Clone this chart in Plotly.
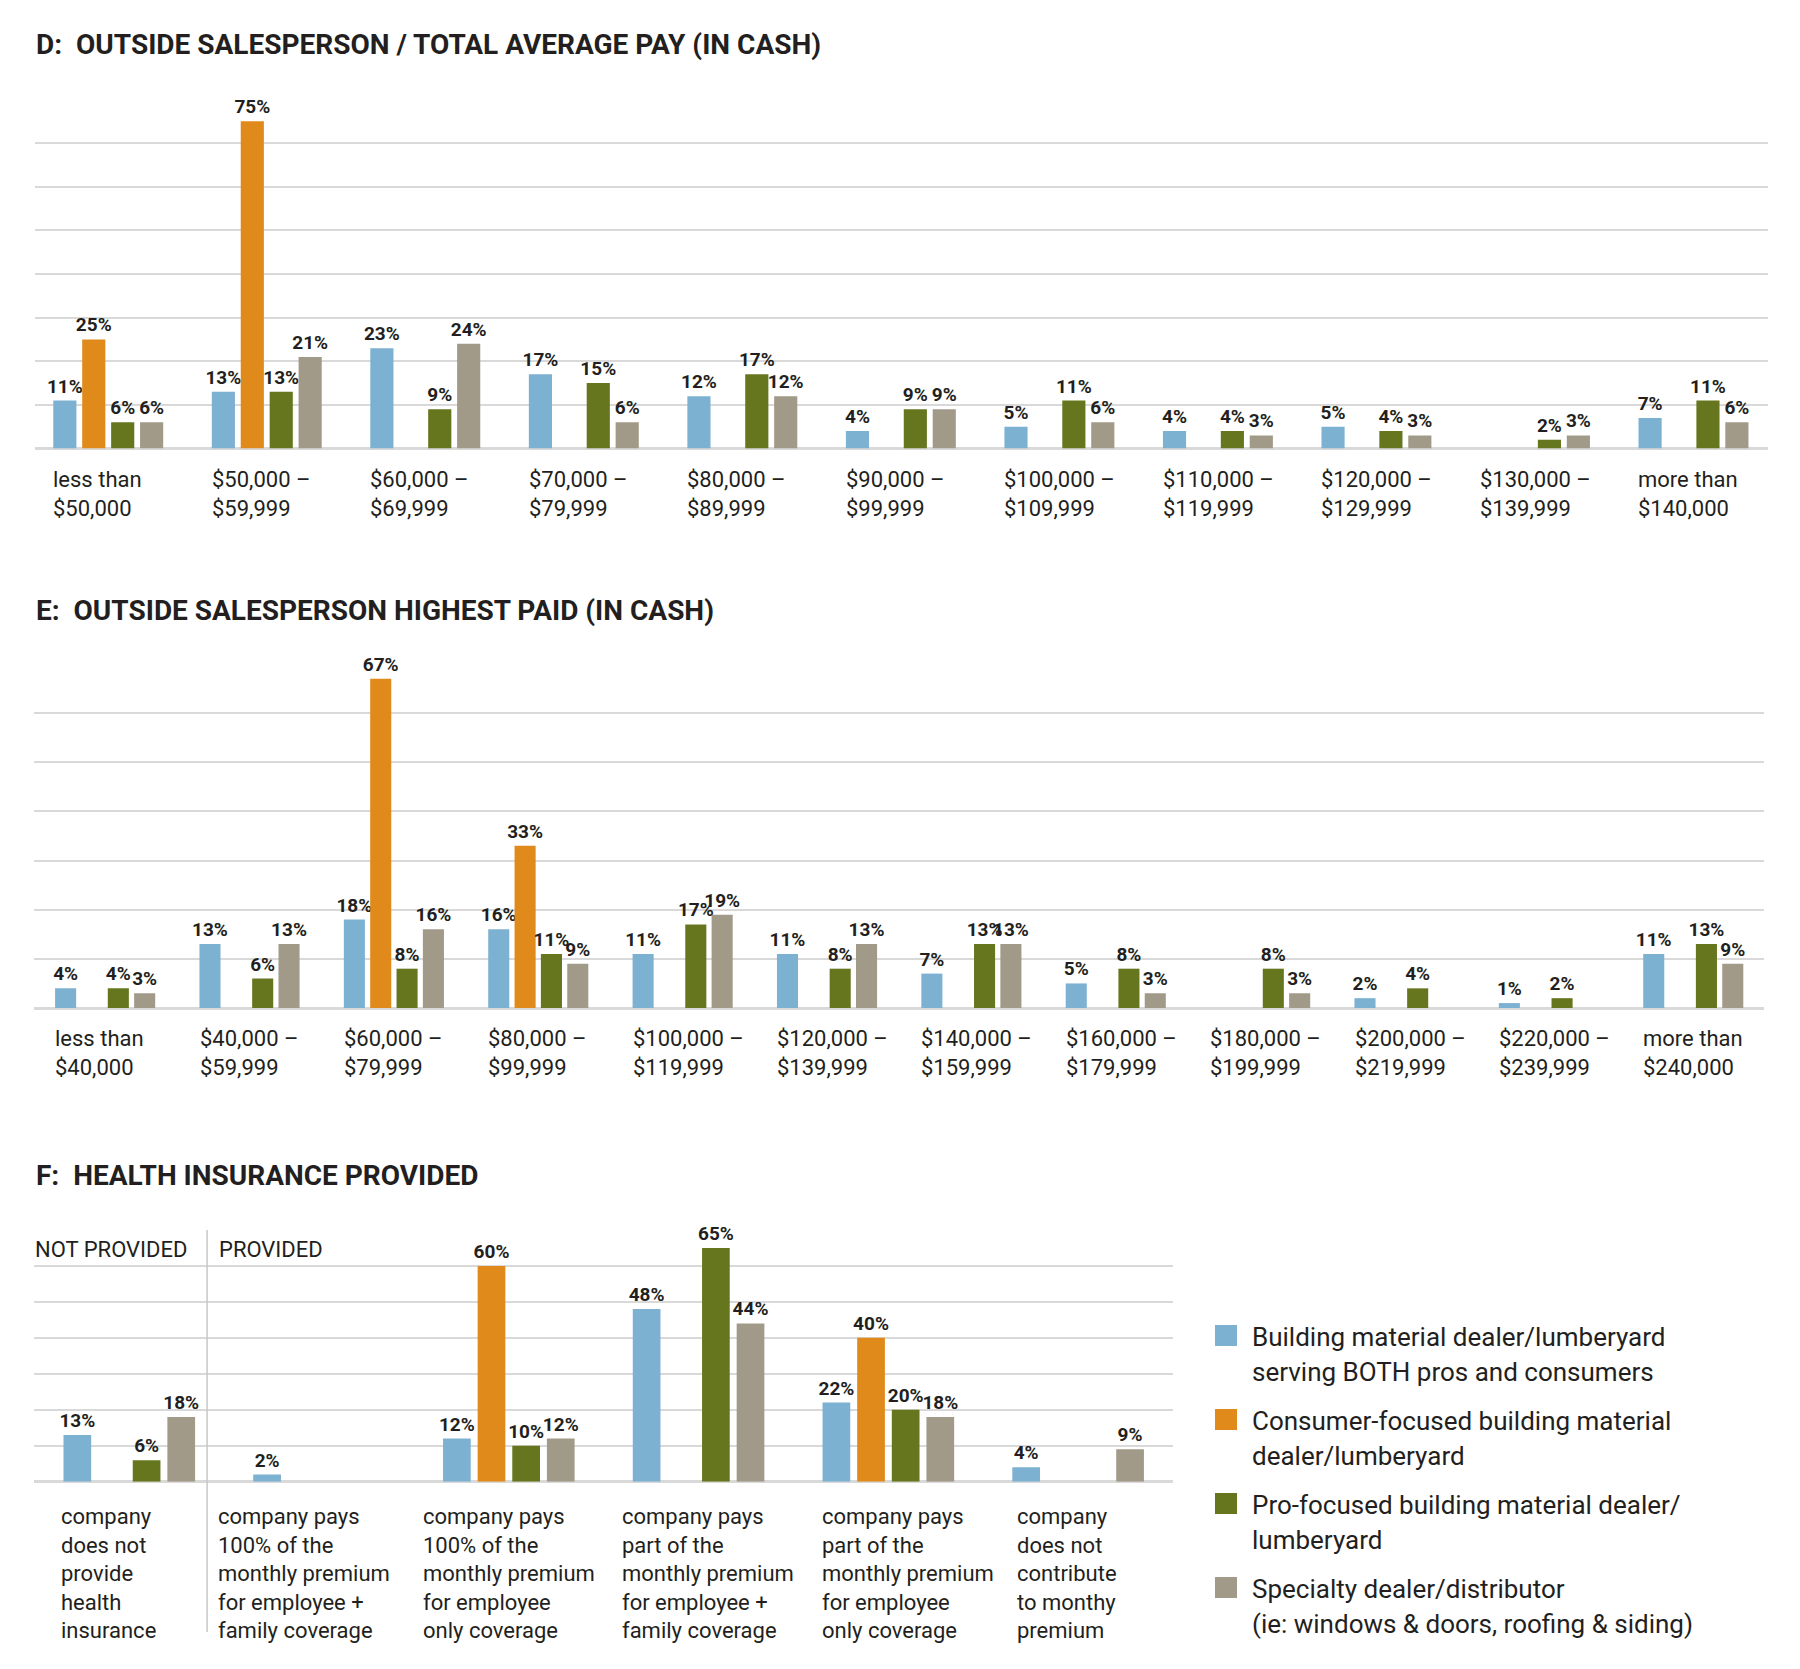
import plotly.graph_objects as go

# page body has an 8px margin; the figure fills the rest of the 1800x1669 window
OFF = 8
W, H = 1800 - 2 * OFF, 1669 - 2 * OFF

# ---------------- data ----------------
series_names = [
    "Building material dealer/lumberyard<br>serving BOTH pros and consumers",
    "Consumer-focused building material<br>dealer/lumberyard",
    "Pro-focused building material dealer/<br>lumberyard",
    "Specialty dealer/distributor<br>(ie: windows & doors, roofing & siding)",
]
colors = ["#7DB1D1", "#E08A1B", "#66761E", "#A29A89"]

d_title = "D:  OUTSIDE SALESPERSON / TOTAL AVERAGE PAY (IN CASH)"
d_cats = ["less than<br>$50,000", "$50,000 –<br>$59,999", "$60,000 –<br>$69,999",
          "$70,000 –<br>$79,999", "$80,000 –<br>$89,999", "$90,000 –<br>$99,999",
          "$100,000 –<br>$109,999", "$110,000 –<br>$119,999", "$120,000 –<br>$129,999",
          "$130,000 –<br>$139,999", "more than<br>$140,000"]
d_both = [11, 13, 23, 17, 12, 4, 5, 4, 5, None, 7]
d_consumer = [25, 75, None, None, None, None, None, None, None, None, None]
d_pro = [6, 13, 9, 15, 17, 9, 11, 4, 4, 2, 11]
d_specialty = [6, 21, 24, 6, 12, 9, 6, 3, 3, 3, 6]

e_title = "E:  OUTSIDE SALESPERSON HIGHEST PAID (IN CASH)"
e_cats = ["less than<br>$40,000", "$40,000 –<br>$59,999", "$60,000 –<br>$79,999",
          "$80,000 –<br>$99,999", "$100,000 –<br>$119,999", "$120,000 –<br>$139,999",
          "$140,000 –<br>$159,999", "$160,000 –<br>$179,999", "$180,000 –<br>$199,999",
          "$200,000 –<br>$219,999", "$220,000 –<br>$239,999", "more than<br>$240,000"]
e_both = [4, 13, 18, 16, 11, 11, 7, 5, None, 2, 1, 11]
e_consumer = [None, None, 67, 33, None, None, None, None, None, None, None, None]
e_pro = [4, 6, 8, 11, 17, 8, 13, 8, 8, 4, 2, 13]
e_specialty = [3, 13, 16, 9, 19, 13, 13, 3, 3, None, None, 9]

f_title = "F:  HEALTH INSURANCE PROVIDED"
f_cats = ["company<br>does not<br>provide<br>health<br>insurance",
          "company pays<br>100% of the<br>monthly premium<br>for employee +<br>family coverage",
          "company pays<br>100% of the<br>monthly premium<br>for employee<br>only coverage",
          "company pays<br>part of the<br>monthly premium<br>for employee +<br>family coverage",
          "company pays<br>part of the<br>monthly premium<br>for employee<br>only coverage",
          "company<br>does not<br>contribute<br>to monthy<br>premium"]
f_both = [13, 2, 12, 48, 22, 4]
f_consumer = [None, None, 60, None, 40, None]
f_pro = [6, None, 10, 65, 20, None]
f_specialty = [18, None, 12, 44, 18, 9]
f_group_labels = ["NOT PROVIDED", "PROVIDED"]

# ---------------- style ----------------
FONT = "Roboto"
TXT = "#231F20"
GRID = "#D9D9D9"

fig = go.Figure()

panels = [
    ("x", "y", d_cats, [d_both, d_consumer, d_pro, d_specialty]),
    ("x2", "y2", e_cats, [e_both, e_consumer, e_pro, e_specialty]),
    ("x3", "y3", f_cats, [f_both, f_consumer, f_pro, f_specialty]),
]

for xa, ya, cats, series in panels:
    xs = list(range(len(cats)))
    for name, col, vals in zip(series_names, colors, series):
        fig.add_trace(go.Bar(
            x=xs, y=vals, name=name, xaxis=xa, yaxis=ya,
            marker=dict(color=col, line=dict(width=0)),
            text=[f"{v}%" if v is not None else "" for v in vals],
            textposition="outside", constraintext="none", cliponaxis=False,
            textfont=dict(family=FONT, size=19, color=TXT, weight="bold"),
            showlegend=False, hoverinfo="skip",
        ))


def px2x(x):
    return (x - OFF) / W


def px2py(y):
    return 1 - (y - OFF) / H


axis_common = dict(showticklabels=False, ticks="", showline=False, fixedrange=True)
fig.update_layout(
    width=W, height=H,
    margin=dict(l=0, r=0, t=0, b=0),
    paper_bgcolor="white", plot_bgcolor="white",
    barmode="group", bargap=0.27, bargroupgap=0.2,
    font=dict(family=FONT, color=TXT),
    xaxis=dict(domain=[px2x(35), px2x(1768)], range=[-0.462, 10.47], showgrid=False,
               zeroline=False, **axis_common),
    yaxis=dict(domain=[px2py(448.5), px2py(99.5)], range=[0, 80], dtick=10,
               showgrid=True, gridcolor=GRID, gridwidth=2, zeroline=True,
               zerolinecolor=GRID, zerolinewidth=3, **axis_common),
    xaxis2=dict(domain=[px2x(34.4), px2x(1764)], range=[-0.49, 11.49], showgrid=False,
                zeroline=False, **axis_common),
    yaxis2=dict(domain=[px2py(1008), px2py(664)], range=[0, 70], dtick=10,
                showgrid=True, gridcolor=GRID, gridwidth=2, zeroline=True,
                zerolinecolor=GRID, zerolinewidth=3, **axis_common),
    xaxis3=dict(domain=[px2x(34.4), px2x(1173)], range=[-0.5, 5.5], showgrid=False,
                zeroline=False, **axis_common),
    yaxis3=dict(domain=[px2py(1481.7), px2py(1230)], range=[0, 70], dtick=10,
                showgrid=True, gridcolor=GRID, gridwidth=2, zeroline=True,
                zerolinecolor=GRID, zerolinewidth=3, **axis_common),
)

ann = []
# titles
for title, ypx in [(d_title, 44.6), (e_title, 610), (f_title, 1175)]:
    ann.append(dict(text=title, xref="paper", yref="paper", x=px2x(34), y=px2py(ypx),
                    xanchor="left", yanchor="middle", showarrow=False,
                    font=dict(family=FONT, size=28, color=TXT, weight="bold")))

# category labels
for xa, ya, cats in [("x", "y", d_cats), ("x2", "y2", e_cats)]:
    for i, c in enumerate(cats):
        ann.append(dict(text=c, xref=xa, yref=ya, x=i - 0.36, y=0, xanchor="left",
                        yanchor="top", yshift=-16, showarrow=False, align="left",
                        font=dict(family=FONT, size=22, color=TXT)))

f_offsets = [-0.37, -0.545, -0.465, -0.415, -0.36, -0.33]
for i, c in enumerate(f_cats):
    ann.append(dict(text=c, xref="x3", yref="y3", x=i + f_offsets[i], y=0,
                    xanchor="left", yanchor="top", yshift=-20, showarrow=False,
                    align="left", font=dict(family=FONT, size=22, color=TXT)))

# NOT PROVIDED / PROVIDED
for lab, xpx in zip(f_group_labels, [33, 217]):
    ann.append(dict(text=lab, xref="paper", yref="paper", x=px2x(xpx), y=px2py(1249),
                    xanchor="left", yanchor="middle", showarrow=False,
                    font=dict(family=FONT, size=22, color=TXT)))

shapes = [dict(type="line", xref="x3", yref="paper", x0=0.41, x1=0.41,
               y0=px2py(1230), y1=px2py(1632), line=dict(color="#C8C8C8", width=1.5))]

# legend
for k, (name, col) in enumerate(zip(series_names, colors)):
    top = 1325 + 84 * k
    shapes.append(dict(type="rect", xref="paper", yref="paper",
                       x0=px2x(1215), x1=px2x(1237), y0=px2py(top + 21), y1=px2py(top),
                       fillcolor=col, line=dict(width=0)))
    for j, line in enumerate(name.split("<br>")):
        ann.append(dict(text=line, xref="paper", yref="paper", x=px2x(1250),
                        y=px2py(top + 12 + 35 * j), xanchor="left", yanchor="middle",
                        showarrow=False, font=dict(family=FONT, size=26, color=TXT)))

fig.update_layout(annotations=ann, shapes=shapes)
fig.write_html("out.html")
